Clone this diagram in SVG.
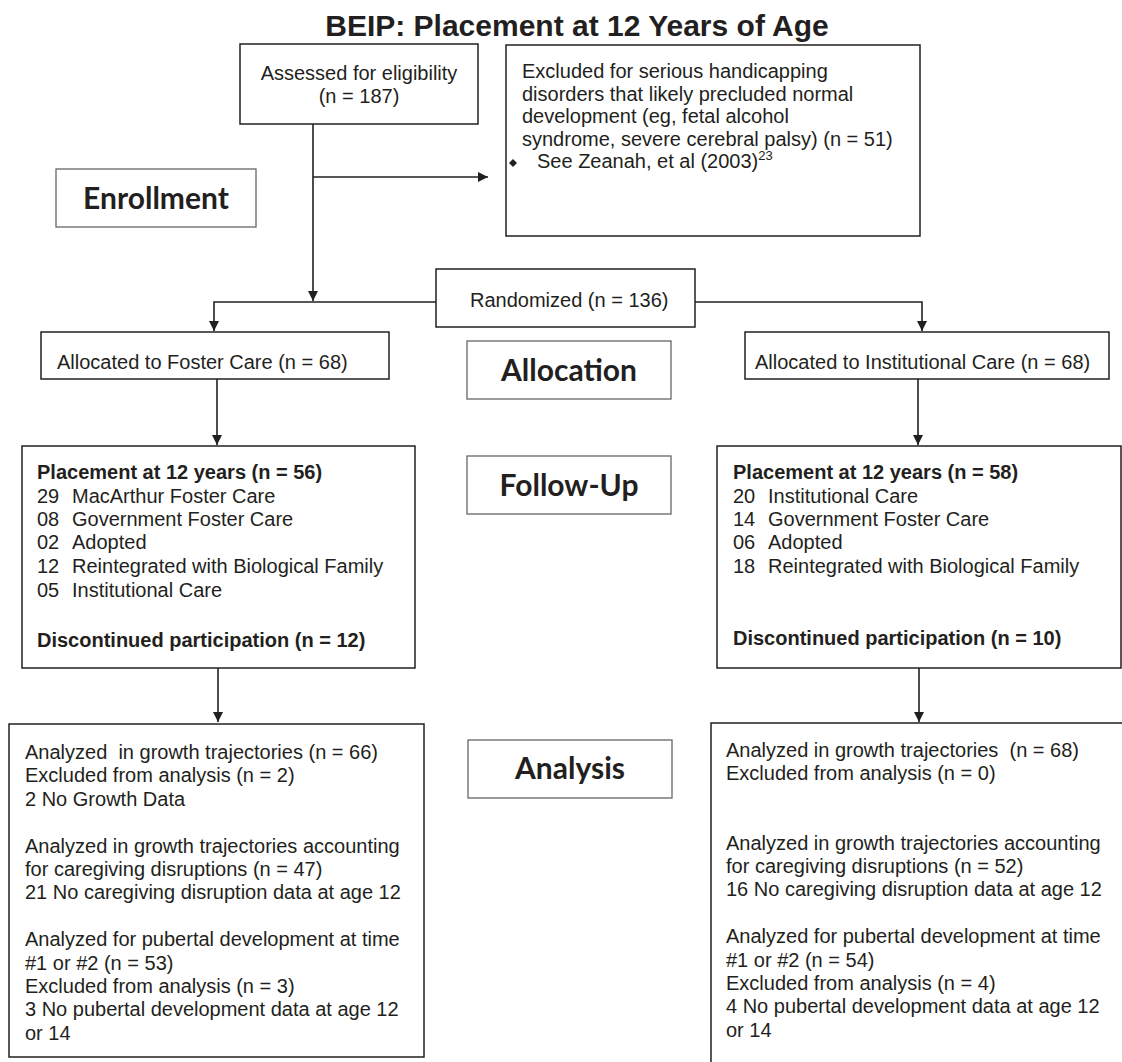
<svg xmlns="http://www.w3.org/2000/svg" width="1122" height="1062" viewBox="0 0 1122 1062">
<style>
.box{fill:#fff;stroke:#231f20;stroke-width:1.5}
.sec{fill:#fff;stroke:#666;stroke-width:1.3}
.t{font-family:"Liberation Sans",Arial,sans-serif;font-size:20px;fill:#231f20;white-space:pre}
.b{font-weight:bold}
.s{font-family:Lato,"Open Sans",sans-serif;font-weight:bold;font-size:30px;fill:#231f20;text-anchor:middle}
.ln{fill:none;stroke:#231f20;stroke-width:1.6}
</style>
<defs>
<marker id="ah" viewBox="0 0 10 10" refX="10" refY="5" markerWidth="10" markerHeight="10" markerUnits="userSpaceOnUse" orient="auto">
<path d="M0,0 L10,5 L0,10 z" fill="#231f20"/>
</marker>
</defs>
<rect width="1122" height="1062" fill="#fff"/>
<text id="title" class="t b" x="577" y="36" style="font-size:30px" text-anchor="middle">BEIP: Placement at 12 Years of Age</text>

<g id="connectors">
<path class="ln" d="M313,124 V301" marker-end="url(#ah)"/>
<path class="ln" d="M313,177 H488" marker-end="url(#ah)"/>
<path class="ln" d="M436,302 H214 V331" marker-end="url(#ah)"/>
<path class="ln" d="M695,302 H922 V331" marker-end="url(#ah)"/>
<path class="ln" d="M217,379 V445" marker-end="url(#ah)"/>
<path class="ln" d="M918,379 V445" marker-end="url(#ah)"/>
<path class="ln" d="M218,668 V722" marker-end="url(#ah)"/>
<path class="ln" d="M919,668 V722" marker-end="url(#ah)"/>
</g>

<g id="assessed">
<rect class="box" x="240" y="44" width="238" height="80"/>
<text class="t" x="359" y="80" text-anchor="middle">Assessed for eligibility</text>
<text class="t" x="359" y="103" text-anchor="middle">(n = 187)</text>
</g>

<g id="excluded">
<rect class="box" x="506" y="45" width="414" height="191"/>
<text class="t" x="522" y="78">Excluded for serious handicapping</text>
<text class="t" x="522" y="101">disorders that likely precluded normal</text>
<text class="t" x="522" y="123">development (eg, fetal alcohol</text>
<text class="t" x="522" y="146">syndrome, severe cerebral palsy) (n = 51)</text>
<path d="M513,159 L517,163 L513,167 L509,163 z" fill="#231f20"/>
<text class="t" x="537" y="168">See Zeanah, et al (2003)<tspan dy="-8" style="font-size:13px">23</tspan></text>
</g>

<g id="enrollment">
<rect class="sec" x="56" y="169" width="200" height="58"/>
<text class="s" x="156" y="209">Enrollment</text>
</g>

<g id="randomized">
<rect class="box" x="436" y="269" width="259" height="58"/>
<text class="t" x="470" y="307">Randomized (n = 136)</text>
</g>

<g id="foster">
<rect class="box" x="41" y="332" width="348" height="47"/>
<text class="t" x="57" y="369">Allocated to Foster Care (n = 68)</text>
</g>

<g id="allocation">
<rect class="sec" x="467" y="341" width="204" height="58"/>
<text class="s" x="569" y="381">Allocation</text>
</g>

<g id="institutional">
<rect class="box" x="745" y="332" width="364" height="47"/>
<text class="t" x="755" y="369">Allocated to Institutional Care (n = 68)</text>
</g>

<g id="followup-left">
<rect class="box" x="22" y="446" width="393" height="222"/>
<text class="t b" x="37" y="479">Placement at 12 years (n = 56)</text>
<text class="t" y="503"><tspan x="37">29</tspan><tspan x="72">MacArthur Foster Care</tspan></text>
<text class="t" y="526"><tspan x="37">08</tspan><tspan x="72">Government Foster Care</tspan></text>
<text class="t" y="549"><tspan x="37">02</tspan><tspan x="72">Adopted</tspan></text>
<text class="t" y="573"><tspan x="37">12</tspan><tspan x="72">Reintegrated with Biological Family</tspan></text>
<text class="t" y="597"><tspan x="37">05</tspan><tspan x="72">Institutional Care</tspan></text>
<text class="t b" x="37" y="647">Discontinued participation (n = 12)</text>
</g>

<g id="followup">
<rect class="sec" x="467" y="456" width="204" height="58"/>
<text class="s" x="569" y="496">Follow-Up</text>
</g>

<g id="followup-right">
<rect class="box" x="717" y="446" width="404" height="222"/>
<text class="t b" x="733" y="479">Placement at 12 years (n = 58)</text>
<text class="t" y="503"><tspan x="733">20</tspan><tspan x="768">Institutional Care</tspan></text>
<text class="t" y="526"><tspan x="733">14</tspan><tspan x="768">Government Foster Care</tspan></text>
<text class="t" y="549"><tspan x="733">06</tspan><tspan x="768">Adopted</tspan></text>
<text class="t" y="573"><tspan x="733">18</tspan><tspan x="768">Reintegrated with Biological Family</tspan></text>
<text class="t b" x="733" y="645">Discontinued participation (n = 10)</text>
</g>

<g id="analysis-left">
<rect class="box" x="9" y="724" width="415" height="333"/>
<text class="t" x="25" y="759">Analyzed  in growth trajectories (n = 66)</text>
<text class="t" x="25" y="782">Excluded from analysis (n = 2)</text>
<text class="t" x="25" y="806">2 No Growth Data</text>
<text class="t" x="25" y="853">Analyzed in growth trajectories accounting</text>
<text class="t" x="25" y="876">for caregiving disruptions (n = 47)</text>
<text class="t" x="25" y="899">21 No caregiving disruption data at age 12</text>
<text class="t" x="25" y="946">Analyzed for pubertal development at time</text>
<text class="t" x="25" y="970">#1 or #2 (n = 53)</text>
<text class="t" x="25" y="993">Excluded from analysis (n = 3)</text>
<text class="t" x="25" y="1016">3 No pubertal development data at age 12</text>
<text class="t" x="25" y="1040">or 14</text>
</g>

<g id="analysis">
<rect class="sec" x="468" y="740" width="204" height="58"/>
<text class="s" x="570" y="779">Analysis</text>
</g>

<g id="analysis-right">
<rect class="box" x="711" y="723" width="430" height="400"/>
<text class="t" x="726" y="757">Analyzed in growth trajectories  (n = 68)</text>
<text class="t" x="726" y="780">Excluded from analysis (n = 0)</text>
<text class="t" x="726" y="850">Analyzed in growth trajectories accounting</text>
<text class="t" x="726" y="873">for caregiving disruptions (n = 52)</text>
<text class="t" x="726" y="896">16 No caregiving disruption data at age 12</text>
<text class="t" x="726" y="943">Analyzed for pubertal development at time</text>
<text class="t" x="726" y="967">#1 or #2 (n = 54)</text>
<text class="t" x="726" y="990">Excluded from analysis (n = 4)</text>
<text class="t" x="726" y="1013">4 No pubertal development data at age 12</text>
<text class="t" x="726" y="1037">or 14</text>
</g>
</svg>
